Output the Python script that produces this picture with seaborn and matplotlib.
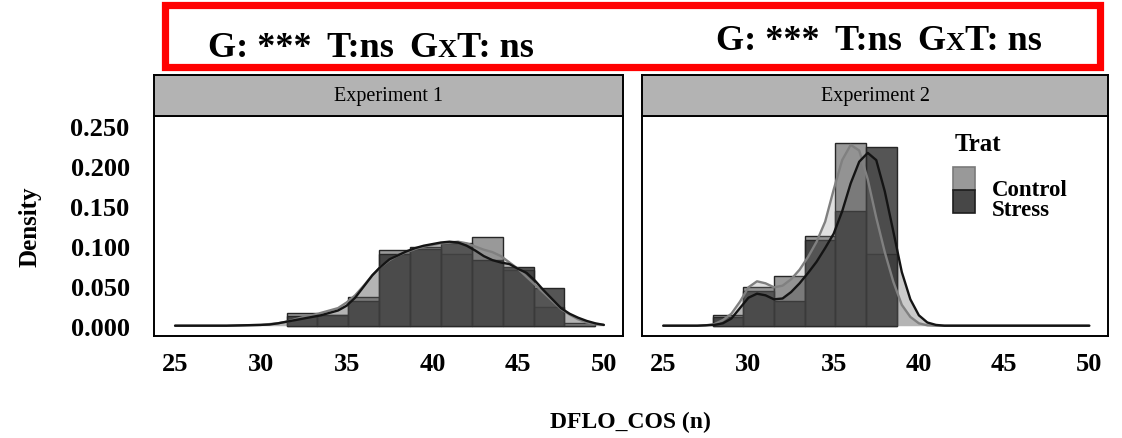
import numpy as np
import pandas as pd
import matplotlib
matplotlib.use("Agg")
import matplotlib.pyplot as plt
import seaborn as sns
from matplotlib.patches import Rectangle

sns.set_theme(style="white")
plt.rcParams['font.family'] = ['Liberation Serif', 'DejaVu Serif']
plt.rcParams['text.color'] = 'black'
plt.rcParams['axes.labelcolor'] = 'black'
plt.rcParams['xtick.color'] = 'black'
plt.rcParams['ytick.color'] = 'black'

# ---------------- data ----------------
treatments = ["Control", "Stress"]
experiments = ["Experiment 1", "Experiment 2"]

exp1_edges = [31.5, 33.3, 35.1, 36.9, 38.7, 40.5, 42.3, 44.1, 45.9, 47.7, 49.5]
exp1_control_hist = [0.0155, 0.013, 0.0355, 0.0946, 0.098, 0.090, 0.1105, 0.070, 0.023, 0.004]
exp1_stress_hist = [0.012, 0.014, 0.031, 0.090, 0.096, 0.103, 0.082, 0.074, 0.047, 0.0]

exp2_edges = [27.9, 29.7, 31.5, 33.3, 35.1, 36.9, 38.7]
exp2_control_hist = [0.0134, 0.049, 0.0625, 0.112, 0.229, 0.0896]
exp2_stress_hist = [0.0104, 0.044, 0.031, 0.1075, 0.143, 0.224]

exp1_dens_x = [25, 28, 29, 30, 30.5, 31, 31.5, 32, 32.5, 33, 33.5, 34, 34.5, 35, 35.5, 36,
               36.5, 37, 37.5, 38, 38.5, 39, 39.5, 40, 40.5, 41, 41.5, 42, 42.5, 43, 43.5,
               44, 44.5, 45, 45.5, 46, 46.5, 47, 47.5, 48, 48.5, 49, 49.5, 50]
exp1_control_dens = [0, 0, 0.0005, 0.001, 0.002, 0.003, 0.005, 0.008, 0.011, 0.013, 0.016,
                     0.019, 0.022, 0.029, 0.038, 0.050, 0.063, 0.074, 0.082, 0.088, 0.092,
                     0.096, 0.099, 0.101, 0.103, 0.104, 0.105, 0.103, 0.099, 0.095, 0.092,
                     0.087, 0.079, 0.071, 0.061, 0.051, 0.041, 0.031, 0.021, 0.014, 0.008,
                     0.004, 0.002, 0.001]
exp1_stress_dens = [0, 0, 0.0005, 0.001, 0.0015, 0.003, 0.005, 0.007, 0.009, 0.011, 0.013,
                    0.016, 0.019, 0.025, 0.035, 0.049, 0.063, 0.074, 0.083, 0.088, 0.093,
                    0.097, 0.100, 0.102, 0.104, 0.105, 0.104, 0.100, 0.094, 0.087, 0.082,
                    0.079, 0.077, 0.071, 0.066, 0.056, 0.044, 0.033, 0.022, 0.015, 0.010,
                    0.006, 0.003, 0.001]

exp2_dens_x = [25, 27, 27.5, 28, 28.5, 29, 29.5, 30, 30.5, 31, 31.5, 32, 32.5, 33, 33.5, 34,
               34.5, 35, 35.5, 36, 36.5, 37, 37.5, 38, 38.5, 39, 39.5, 40, 40.5, 41, 41.5, 50]
exp2_control_dens = [0, 0, 0.0005, 0.002, 0.007, 0.015, 0.030, 0.048, 0.0555, 0.053, 0.048,
                     0.050, 0.058, 0.070, 0.086, 0.105, 0.130, 0.170, 0.207, 0.226, 0.219,
                     0.183, 0.135, 0.092, 0.055, 0.026, 0.011, 0.003, 0.0005, 0, 0, 0]
exp2_stress_dens = [0, 0, 0.0005, 0.001, 0.003, 0.009, 0.022, 0.035, 0.040, 0.038, 0.033,
                    0.034, 0.042, 0.053, 0.066, 0.080, 0.097, 0.115, 0.143, 0.178, 0.205,
                    0.216, 0.207, 0.168, 0.118, 0.067, 0.033, 0.013, 0.004, 0.001, 0, 0]

x_ticks = [25, 30, 35, 40, 45, 50]
y_ticks = [0.0, 0.05, 0.10, 0.15, 0.20, 0.25]
annotation_runs = [("G: ***", False), ("T:ns", False), ("G", False), ("X", True), ("T: ns", False)]

# ---------------- styling ----------------
W, H = 1122, 439
fig = plt.figure(figsize=(W / 100, H / 100), dpi=100)

def fx(px):
    return px / W

def fy(py):
    return 1 - py / H

hist_color = {"Control": "#858585", "Stress": "#333333"}
line_color = {"Control": "#808080", "Stress": "#141414"}

panel_left = [154, 642.3]
panel_right = [622.7, 1108]
plot_top, plot_bot, strip_top = 116.7, 336.7, 75.5

hist_data = {
    "Experiment 1": (exp1_edges, {"Control": exp1_control_hist, "Stress": exp1_stress_hist}),
    "Experiment 2": (exp2_edges, {"Control": exp2_control_hist, "Stress": exp2_stress_hist}),
}
dens_data = {
    "Experiment 1": (exp1_dens_x, {"Control": exp1_control_dens, "Stress": exp1_stress_dens}),
    "Experiment 2": (exp2_dens_x, {"Control": exp2_control_dens, "Stress": exp2_stress_dens}),
}

for i, exp in enumerate(experiments):
    l, r = panel_left[i], panel_right[i]
    ax = fig.add_axes([fx(l), fy(plot_bot), fx(r - l), (plot_bot - plot_top) / H])
    edges, hists = hist_data[exp]
    centers = [(edges[k] + edges[k + 1]) / 2 for k in range(len(edges) - 1)]
    for t in treatments:
        df = pd.DataFrame({"x": centers, "w": hists[t]})
        sns.histplot(data=df, x="x", weights="w", bins=edges, stat="count",
                     color=hist_color[t], alpha=0.83, edgecolor="#262626",
                     linewidth=1.0, ax=ax, zorder=2)
    dx, dens = dens_data[exp]
    for t in treatments:
        ax.fill_between(dx, dens[t], color=hist_color[t], alpha=0.25, lw=0, zorder=3)
    for t in treatments:
        ddf = pd.DataFrame({"x": dx, "y": dens[t]})
        sns.lineplot(data=ddf, x="x", y="y", color=line_color[t], lw=1.7,
                     estimator=None, sort=False, ax=ax, zorder=4)

    ax.set_xlim(23.77, 51.1)
    ax.set_ylim(-0.0125, 0.2625)
    ax.set_xticks(x_ticks)
    ax.set_xticklabels([str(v) for v in x_ticks], fontsize=19, fontweight="bold")
    ax.set_yticks(y_ticks)
    ax.set_yticklabels([f"{v:.3f}" for v in y_ticks], fontsize=19, fontweight="bold")
    ax.set_xlabel("")
    ax.set_ylabel("")
    ax.grid(False)
    ax.set_facecolor("white")
    for sp in ax.spines.values():
        sp.set_color("black")
        sp.set_linewidth(1.4)
        sp.set_visible(True)
    ax.tick_params(axis="both", direction="out", length=4.5, width=1.4, color="black",
                   labelcolor="black")
    ax.tick_params(axis="x", pad=7)
    ax.tick_params(axis="y", pad=13)
    if i == 1:
        ax.tick_params(axis="y", left=False, labelleft=False)

    # facet strip
    sax = fig.add_axes([fx(l), fy(plot_top), fx(r - l), (plot_top - strip_top) / H])
    sax.set_facecolor("#b3b3b3")
    sax.set_xticks([])
    sax.set_yticks([])
    for sp in sax.spines.values():
        sp.set_color("black")
        sp.set_linewidth(1.4)
        sp.set_visible(True)
    sax.text(0.5, 0.5, exp, ha="center", va="center", fontsize=14.5, color="black",
             transform=sax.transAxes)

# axis labels
fig.text(fx(30), fy(226.7), "Density", rotation=90, ha="center", va="center",
         fontsize=18, fontweight="bold")
fig.text(fx(630), fy(422), "DFLO_COS (n)", ha="center", va="center",
         fontsize=17, fontweight="bold")

# legend (drawn inside panel 2)
fig.text(fx(955), fy(151), "Trat", ha="left", va="baseline", fontsize=18, fontweight="bold")
key_specs = [("Control", 168, "#999999", "#7a7a7a", 196), ("Stress", 191, "#474747", "#1e1e1e", 216)]
for name, ytop, fc, ec, base in key_specs:
    fig.patches.append(Rectangle((fx(953), fy(ytop + 23)), fx(22), 23 / H,
                                 facecolor=fc, edgecolor=ec, lw=1.2,
                                 transform=fig.transFigure, figure=fig))
    fig.text(fx(992), fy(base), name, ha="left", va="baseline", fontsize=16.5,
             fontweight="bold")

# red annotation box
fig.patches.append(Rectangle((fx(164.5), fy(67.5)), fx(1099.5 - 164.5), (67.5 - 5.5) / H,
                             facecolor="none", edgecolor="#ff0000", lw=5.2,
                             transform=fig.transFigure, figure=fig))

renderer = fig.canvas.get_renderer()

def draw_runs(x0, baseline):
    x = x0
    gaps = [15, 15, 0, 0, 0]
    for (txt, small), gap in zip(annotation_runs, gaps):
        t = fig.text(fx(x), fy(baseline), txt, ha="left", va="baseline",
                     fontsize=19 if small else 26, fontweight="bold")
        bb = t.get_window_extent(renderer=renderer)
        x += bb.width + gap

draw_runs(208, 57)
draw_runs(716, 50)

fig.savefig("out.png", dpi=100, facecolor="white")
